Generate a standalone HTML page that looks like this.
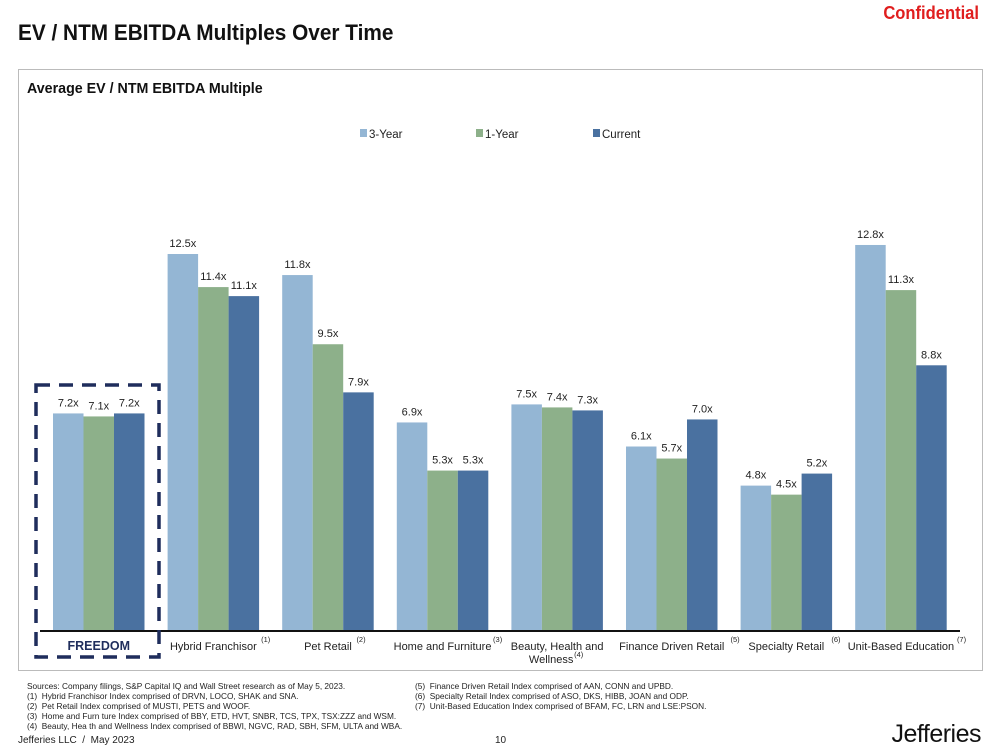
<!DOCTYPE html>
<html><head><meta charset="utf-8"><style>
body{margin:0;width:999px;height:750px;background:#fff;position:relative;overflow:hidden;font-family:"Liberation Sans",sans-serif;}
.abs{position:absolute;}
</style></head><body>
<div class="abs" style="right:20px;top:3px;color:#e01e1e;font-weight:bold;font-size:18px;transform:scaleX(0.92);transform-origin:right top;">Confidential</div>
<div class="abs" style="left:18px;top:20px;font-weight:bold;font-size:22px;color:#111;transform:scaleX(0.945);transform-origin:left top;white-space:nowrap;">EV / NTM EBITDA Multiples Over Time</div>
<div class="abs" style="left:18px;top:69px;width:963px;height:600px;border:1.5px solid #bbb;"></div>
<div class="abs" style="left:27px;top:80px;font-weight:bold;font-size:15px;color:#111;transform:scaleX(0.95);transform-origin:left top;white-space:nowrap;">Average EV / NTM EBITDA Multiple</div>
<svg class="abs" style="left:0;top:0" width="999" height="750" id="chart"></svg>
<div class="abs" style="left:27px;top:681px;font-size:8.3px;line-height:10px;color:#222;white-space:nowrap;">
Sources: Company filings, S&amp;P Capital IQ and Wall Street research as of May 5, 2023.<br>
(1)&nbsp;&nbsp;Hybrid Franchisor Index comprised of DRVN, LOCO, SHAK and SNA.<br>
(2)&nbsp;&nbsp;Pet Retail Index comprised of MUSTI, PETS and WOOF.<br>
(3)&nbsp;&nbsp;Home and Furn ture Index comprised of BBY, ETD, HVT, SNBR, TCS, TPX, TSX:ZZZ and WSM.<br>
(4)&nbsp;&nbsp;Beauty, Hea th and Wellness Index comprised of BBWI, NGVC, RAD, SBH, SFM, ULTA and WBA.</div>
<div class="abs" style="left:415px;top:681px;font-size:8.3px;line-height:10px;color:#222;white-space:nowrap;">
(5)&nbsp;&nbsp;Finance Driven Retail Index comprised of AAN, CONN and UPBD.<br>
(6)&nbsp;&nbsp;Specialty Retail Index comprised of ASO, DKS, HIBB, JOAN and ODP.<br>
(7)&nbsp;&nbsp;Unit-Based Education Index comprised of BFAM, FC, LRN and LSE:PSON.</div>
<div class="abs" style="left:18px;top:735px;font-size:10px;color:#222;">Jefferies LLC&nbsp; / &nbsp;May 2023</div>
<div class="abs" style="left:495px;top:735px;font-size:10px;color:#222;">10</div>
<div class="abs" style="right:18px;top:720px;font-size:25px;color:#111;letter-spacing:-0.5px;">Jefferies</div>
<script>
const categories=["FREEDOM","Hybrid Franchisor","Pet Retail","Home and Furniture","Beauty, Health and Wellness","Finance Driven Retail","Specialty Retail","Unit-Based Education"];
const notes=["","(1)","(2)","(3)","(4)","(5)","(6)","(7)"];
const threeYear=[7.2,12.5,11.8,6.9,7.5,6.1,4.8,12.8];
const oneYear=[7.1,11.4,9.5,5.3,7.4,5.7,4.5,11.3];
const current=[7.2,11.1,7.9,5.3,7.3,7.0,5.2,8.8];
const seriesNames=["3-Year","1-Year","Current"];
const colors=["#94b6d4","#8db08a","#4a71a0"];
const NS="http://www.w3.org/2000/svg";
const svg=document.getElementById('chart');
const base=630,ppu=30.08,x0=53,pitch=114.6,bw=30.5;
const y=v=>base-v*ppu;
const gx=i=>x0+i*pitch;
function mk(t,a){const e=document.createElementNS(NS,t);for(const k in a)e.setAttribute(k,a[k]);svg.appendChild(e);return e;}
const series=[threeYear,oneYear,current];
series.forEach((s,si)=>s.forEach((v,i)=>{
 const r=mk('rect',{x:gx(i)+si*bw,y:y(v),width:bw,height:v*ppu,fill:colors[si]});
 
 
 const t=mk('text',{x:gx(i)+si*bw+bw/2,y:y(v)-7,'text-anchor':'middle','font-size':11,fill:'#222','font-family':'Liberation Sans, sans-serif'});
 t.textContent=v.toFixed(1)+'x';
 
 
}));
const ax=mk('line',{x1:40,x2:960,y1:base+1,y2:base+1,stroke:'#111','stroke-width':2});


categories.forEach((c,i)=>{
 const cx=gx(i)+bw*1.5;
 const fs=i==0?12.5:11;
 const t=mk('text',{x:cx,y:650,'text-anchor':'middle','font-size':fs,fill:i==0?'#1f2d5c':'#222','font-weight':i==0?'bold':'normal','textLength':0});
 t.removeAttribute('textLength');
 
 
 if(i==4){t.textContent="Beauty, Health and";const t2=mk('text',{x:cx-6,y:663,'text-anchor':'middle','font-size':11,fill:'#222'});t2.textContent="Wellness";
  
  
  const n=mk('text',{x:cx+17,y:657,'font-size':7.5,fill:'#222'});n.textContent=notes[i];
  
  }
 else{t.textContent=c;
  if(notes[i]){const n=mk('text',{x:cx+c.length*2.75+1,y:642,'font-size':7.5,fill:'#222'});n.textContent=notes[i];
  
  }}
});
const box=mk('rect',{x:36,y:385,width:123,height:272,fill:'none',stroke:'#1f2d5c','stroke-width':3.5,'stroke-dasharray':'14 9'});


const lx=[360,476,593];
seriesNames.forEach((n,i)=>{
 const r=mk('rect',{x:lx[i],y:129,width:7,height:8,fill:colors[i]});
 
 
 const t=mk('text',{x:lx[i]+9,y:138,'font-size':11.5,fill:'#222'});t.textContent=n;
 
 
});
</script>
</body></html>
